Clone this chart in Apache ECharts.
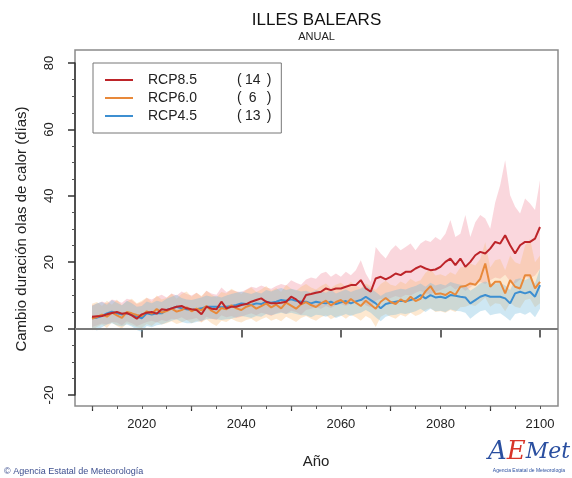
<!DOCTYPE html>
<html>
<head>
<meta charset="utf-8">
<script src="https://cdn.jsdelivr.net/npm/echarts@6/dist/echarts.min.js"></script>
<style>
  html, body { margin: 0; padding: 0; background: #fff; }
  #chart { width: 572px; height: 478px; }
</style>
</head>
<body>
<div id="chart"></div>
<script>
// Heat-wave duration change, Illes Balears, annual, 2010-2100
const startYear = 2010;
const scenarioNames = ['RCP8.5', 'RCP6.0', 'RCP4.5'];
const modelCounts = [14, 6, 13];
const xTickLabels = [2020, 2040, 2060, 2080, 2100];
const yTickLabels = [-20, 0, 20, 40, 60, 80];

// ensemble mean, lower and upper bounds (days)
const rcp85Mean = [
  3.6,3.7,3.8,4.3,4.7,5.0,4.5,4.7,4.0,3.0,
  4.3,4.8,5.0,4.5,5.8,5.6,6.1,6.6,6.8,6.1,
  5.8,5.6,4.3,6.6,6.0,5.8,8.1,6.1,6.6,6.6,
  7.1,7.4,8.1,8.6,9.1,8.1,7.6,7.6,7.8,8.1,
  9.6,8.8,7.4,10.1,10.4,10.8,11.1,12.1,11.6,12.1,
  12.1,12.6,13.1,13.1,14.6,12.1,11.1,15.1,15.6,14.8,
  15.6,16.6,16.1,17.1,17.1,18.1,18.8,18.1,17.6,17.8,
  18.6,20.1,21.1,19.1,21.1,18.6,20.1,22.1,23.1,22.6,
  24.1,26.1,25.6,28.1,25.1,22.6,25.1,26.1,26.1,27.1,
  30.6
];
const rcp85Low = [
  0.5,1.0,1.5,1.2,2.0,1.8,1.0,2.2,1.6,0.8,
  1.4,2.0,2.4,1.8,2.6,2.2,3.0,2.8,3.4,2.6,
  2.8,3.2,2.0,3.6,3.0,2.6,4.0,3.4,3.8,3.2,
  3.6,4.2,4.6,4.0,4.8,4.4,3.8,4.6,5.0,4.4,
  5.4,5.0,4.2,5.6,6.0,6.4,6.0,6.8,6.2,7.0,
  7.4,6.8,7.6,8.0,8.6,7.0,6.4,8.4,9.0,8.6,
  9.2,9.8,9.4,10.2,10.0,10.8,11.4,10.6,10.4,11.0,
  11.6,12.2,13.0,11.8,12.6,11.4,12.4,13.6,14.0,13.4,
  14.6,15.4,15.0,16.2,14.2,13.6,14.8,15.6,15.2,16.0,
  18.0
];
const rcp85High = [
  7.0,7.5,8.2,7.6,8.8,8.4,7.8,9.0,8.6,7.4,
  8.0,9.2,8.8,9.6,10.2,9.4,10.6,10.0,11.2,10.4,
  10.0,10.8,9.6,11.4,10.6,10.2,12.4,11.0,11.6,11.2,
  11.0,11.8,12.6,12.2,13.0,12.4,12.0,12.8,13.4,13.0,
  14.6,13.8,13.2,14.8,15.4,15.0,16.6,17.1,15.6,16.6,
  15.6,17.1,16.1,17.6,20.6,16.6,14.0,24.6,22.6,21.1,
  23.6,25.1,23.6,24.6,25.6,23.6,25.6,26.6,26.1,27.6,
  26.6,28.6,32.7,27.6,28.6,34.2,27.6,32.0,34.2,33.2,
  30.1,38.0,43.2,50.7,40.2,36.7,34.7,39.2,37.7,35.7,
  44.7
];

const rcp60Mean = [
  3.0,3.5,4.2,3.6,4.8,4.0,3.2,5.0,4.6,4.1,
  3.8,5.2,4.5,5.9,4.8,5.3,6.0,5.1,5.6,6.4,
  5.2,6.0,5.5,6.8,5.4,4.6,6.2,5.8,7.0,6.1,
  5.6,6.6,7.1,6.0,6.8,7.6,6.4,7.2,6.1,7.8,
  6.9,6.0,7.3,8.0,7.1,6.5,7.6,8.4,7.0,8.0,
  8.6,7.5,8.9,7.8,6.8,8.4,7.2,6.0,8.1,9.2,
  8.0,7.4,8.8,8.0,9.6,8.3,9.0,11.2,12.8,10.4,
  10.6,10.1,11.1,10.2,12.6,12.8,13.6,13.2,15.0,19.6,
  12.6,14.1,14.1,10.6,14.6,12.6,12.1,16.1,16.1,12.1,
  14.1
];
const rcp60Low = [
  -0.5,0.5,1.2,0.2,1.8,0.8,0.0,1.6,1.0,0.4,
  0.2,1.4,0.8,2.0,1.2,1.6,2.2,1.4,1.8,2.6,
  1.6,2.4,1.8,2.8,1.6,0.8,2.4,2.0,3.0,2.2,
  1.8,2.6,3.0,2.0,2.8,3.4,2.4,3.0,2.2,3.6,
  2.8,2.0,3.2,3.8,3.0,2.4,3.4,4.0,2.8,3.6,
  4.0,3.0,4.2,3.4,2.4,3.8,3.0,0.5,3.6,4.4,
  3.6,3.0,4.2,3.6,4.8,3.8,4.4,5.6,6.2,5.0,
  5.2,4.8,5.6,5.0,6.4,6.6,7.2,6.8,8.0,9.4,
  6.6,7.6,7.4,5.2,7.8,6.6,6.2,8.6,9.0,6.4,
  7.6
];
const rcp60High = [
  7.5,8.0,6.8,8.4,7.2,8.8,7.0,8.2,9.0,7.6,
  8.4,9.4,8.0,10.0,8.8,9.2,10.6,9.0,10.4,11.2,
  9.6,10.8,9.8,11.4,10.2,9.4,11.0,10.6,12.0,11.2,
  10.4,11.6,12.4,11.0,11.8,12.8,11.4,12.2,11.0,13.2,
  12.0,11.4,12.6,13.4,12.4,11.8,12.8,13.6,12.2,13.2,
  13.8,12.6,14.0,13.0,12.2,13.6,12.8,11.6,13.4,14.4,
  13.2,12.8,14.2,13.4,15.0,14.0,14.6,16.8,18.0,16.0,
  16.4,15.8,17.0,16.2,18.4,18.8,19.6,19.0,21.0,26.0,
  18.4,20.6,21.0,17.6,22.0,20.0,19.4,25.0,27.0,20.0,
  22.0
];

const rcp45Mean = [
  3.1,3.3,3.8,4.6,5.1,4.6,4.2,4.6,4.2,3.6,
  3.1,4.6,4.2,4.6,4.6,5.6,6.1,6.6,6.1,5.8,
  5.6,5.8,6.1,6.6,6.6,6.6,6.4,6.6,6.8,7.1,
  7.6,7.4,7.1,7.6,7.4,8.1,7.8,8.1,8.6,8.4,
  8.8,8.4,8.1,8.1,7.6,8.1,7.8,7.6,8.1,7.4,
  7.9,8.3,7.6,8.2,8.6,9.6,8.6,7.6,6.1,7.4,
  7.8,8.1,8.4,8.2,8.6,9.1,10.1,9.1,10.1,9.4,
  9.6,9.2,10.1,9.9,9.6,9.4,7.6,8.6,9.6,10.1,
  9.6,9.6,9.6,9.1,7.6,10.6,11.1,10.6,11.1,9.6,
  13.1
];
const rcp45Low = [
  0.0,-0.6,0.4,1.2,1.6,1.0,0.6,1.2,0.6,-0.4,
  -1.0,0.8,0.4,1.0,1.2,1.8,2.4,2.8,2.0,1.6,
  1.6,2.0,2.4,2.8,3.0,2.8,2.6,2.8,3.0,3.4,
  3.8,3.6,3.2,3.8,3.6,4.4,4.0,4.4,4.8,4.4,
  4.8,4.4,4.0,4.0,3.4,4.2,4.0,3.6,4.2,3.2,
  3.8,4.4,3.8,4.4,4.8,5.6,4.8,3.4,2.2,3.6,
  4.0,4.2,4.6,4.4,4.8,5.2,6.0,5.0,6.0,5.2,
  5.4,5.0,5.8,5.4,5.2,4.8,3.0,4.2,5.2,5.6,
  4.0,4.4,4.6,3.6,2.4,4.4,4.8,4.2,5.0,3.4,
  6.0
];
const rcp45High = [
  6.8,7.6,8.0,7.2,8.6,7.8,7.0,8.4,7.6,6.6,
  6.8,8.2,7.6,8.4,8.0,9.0,9.6,10.2,9.2,8.8,
  8.6,9.0,9.4,10.0,9.6,9.8,9.4,10.0,10.4,10.8,
  11.2,10.8,10.4,11.0,10.6,11.6,11.2,11.8,12.2,11.6,
  12.0,11.6,11.2,11.4,10.8,11.6,11.2,10.8,11.6,10.6,
  11.2,11.8,11.0,11.6,12.0,13.0,12.0,11.0,9.8,10.8,
  11.2,11.6,12.0,11.8,12.4,12.8,13.6,12.6,13.8,13.0,
  13.4,13.0,14.0,13.6,13.2,13.0,11.4,12.4,13.6,14.2,
  13.6,13.6,13.8,13.0,11.6,14.8,15.2,14.6,15.4,13.6,
  18.0
];

const years = rcp85Mean.map((_, i) => startYear + i);
const pairs = arr => arr.map((v, i) => [years[i], v]);
const triples = (lo, hi) => lo.map((v, i) => [years[i], v, hi[i]]);

const lineColors = ['#bd2429', '#e8893a', '#3d8fd1'];
const bandColors = ['rgba(240,130,150,0.32)', 'rgba(250,185,110,0.32)', 'rgba(110,185,220,0.34)'];
const bands = [[rcp85Low, rcp85High], [rcp60Low, rcp60High], [rcp45Low, rcp45High]];
const means = [rcp85Mean, rcp60Mean, rcp45Mean];

// Plot-area geometry (pixels)
const axisLeft = 92, axisRight = 540, axisTop = 63, axisBottom = 395;
const boxLeft = 75, boxRight = 558, boxTop = 50, boxBottom = 406;
const yMin = -20, yMax = 80, xMin = 2010, xMax = 2100;
const pxPerUnitY = (axisBottom - axisTop) / (yMax - yMin);
const pxPerYear = (axisRight - axisLeft) / (xMax - xMin);

const series = [];
// zero reference line across the whole box
series.push({
  type: 'line', xAxisIndex: 0, yAxisIndex: 0, data: [], silent: true, z: 1,
  markLine: {
    silent: true, symbol: 'none', label: { show: false },
    lineStyle: { color: '#7a7a7a', width: 2, type: 'solid' },
    data: [{ yAxis: 0 }]
  }
});
// ensemble ranges as filled polygons (upper edge forward, lower edge back)
bands.forEach(([lo, hi], k) => {
  const rows = triples(lo, hi);
  series.push({
    type: 'custom', xAxisIndex: 1, yAxisIndex: 1, silent: true, z: 2,
    data: rows, encode: { x: 0, y: [1, 2] },
    renderItem: (params, api) => {
      if (params.dataIndex !== 0) return null;
      const upper = rows.map(r => api.coord([r[0], r[2]]));
      const lower = rows.map(r => api.coord([r[0], r[1]])).reverse();
      return { type: 'polygon', shape: { points: upper.concat(lower) },
               style: { fill: bandColors[k], stroke: null } };
    }
  });
});
// ensemble means, blue drawn first so red sits on top
[2, 1, 0].forEach(k => {
  series.push({
    name: scenarioNames[k], type: 'line', xAxisIndex: 1, yAxisIndex: 1,
    data: pairs(means[k]), symbol: 'none', color: lineColors[k],
    lineStyle: { color: lineColors[k], width: 2 }, z: 5
  });
});

const font = 'Liberation Sans, Arial, Helvetica, sans-serif';
const minorYears = [];
for (let y = 2010; y <= 2100; y += 5) minorYears.push(y);
const midYears = [2010, 2030, 2050, 2070, 2090];

const tickAxis = (values, len, width, color) => ({
  type: 'value', gridIndex: 1, min: xMin, max: xMax, position: 'bottom', offset: boxBottom - axisBottom,
  axisLine: { show: false }, splitLine: { show: false }, axisLabel: { show: false },
  axisTick: { show: true, customValues: values, length: len, lineStyle: { color, width } }
});

const option = {
  animation: false,
  backgroundColor: '#ffffff',
  grid: [
    { left: boxLeft, right: 572 - boxRight, top: boxTop, bottom: 478 - boxBottom,
      show: true, borderColor: '#8a8a8a', borderWidth: 1.5, backgroundColor: 'transparent' },
    { left: axisLeft, right: 572 - axisRight, top: axisTop, bottom: 478 - axisBottom, show: false }
  ],
  xAxis: [
    { type: 'value', gridIndex: 0, show: false,
      min: xMin - (axisLeft - boxLeft) / pxPerYear, max: xMax + (boxRight - axisRight) / pxPerYear },
    { type: 'value', gridIndex: 1, min: xMin, max: xMax, position: 'bottom', offset: boxBottom - axisBottom,
      name: 'Año', nameLocation: 'middle', nameGap: 48,
      nameTextStyle: { fontFamily: font, fontSize: 15, color: '#222' },
      axisLine: { show: false },
      splitLine: { show: false },
      axisTick: { show: true, customValues: xTickLabels, length: 9, lineStyle: { color: '#333', width: 1.5 } },
      axisLabel: { customValues: xTickLabels, formatter: v => String(v),
                   fontFamily: font, fontSize: 13, color: '#222', margin: 12 } },
    tickAxis(midYears, 5, 1.2, '#333'),
    tickAxis(minorYears, 3, 1, '#555')
  ],
  yAxis: [
    { type: 'value', gridIndex: 0, show: false,
      min: yMin - (boxBottom - axisBottom) / pxPerUnitY, max: yMax + (axisTop - boxTop) / pxPerUnitY },
    { type: 'value', gridIndex: 1, min: yMin, max: yMax, interval: 20, position: 'left', offset: axisLeft - boxLeft,
      name: 'Cambio duración olas de calor (días)', nameLocation: 'middle', nameGap: 46,
      nameTextStyle: { fontFamily: font, fontSize: 15, color: '#222' },
      axisLine: { show: true, lineStyle: { color: '#333', width: 1.5 } },
      splitLine: { show: false },
      axisTick: { show: true, length: 7, lineStyle: { color: '#333', width: 1.5 } },
      minorTick: { show: true, splitNumber: 4, length: 3, lineStyle: { color: '#555' } },
      axisLabel: { customValues: yTickLabels, rotate: 90, fontFamily: font, fontSize: 13, color: '#222', margin: 19 } }
  ],
  legend: {
    data: scenarioNames, orient: 'vertical', left: 93, top: 63,
    padding: [10, 10, 10, 12], itemGap: 4, itemWidth: 28, itemHeight: 2, icon: 'rect',
    borderColor: '#777', borderWidth: 1, backgroundColor: '#fff',
    formatter: name => {
      const n = modelCounts[scenarioNames.indexOf(name)];
      return '{n|' + name + '}{p|(}{v|' + n + '}{q|)}';
    },
    textStyle: {
      fontFamily: font, fontSize: 14, color: '#222', lineHeight: 14,
      rich: {
        n: { fontFamily: font, fontSize: 14, width: 89, padding: [0, 0, 0, 10] },
        p: { fontFamily: font, fontSize: 14 },
        v: { fontFamily: font, fontSize: 14, width: 22, align: 'right' },
        q: { fontFamily: font, fontSize: 14, padding: [0, 0, 0, 3] }
      }
    }
  },
  graphic: [
    { type: 'text', x: (boxLeft + boxRight) / 2, y: 20, style: { text: 'ILLES BALEARS', font: '17px ' + font, fill: '#111', textAlign: 'center', textVerticalAlign: 'middle' } },
    { type: 'text', x: (boxLeft + boxRight) / 2, y: 37, style: { text: 'ANUAL', font: '11px ' + font, fill: '#222', textAlign: 'center', textVerticalAlign: 'middle' } },
    { type: 'text', x: 4, y: 472, style: { text: '© Agencia Estatal de Meteorología', font: '9px ' + font, fill: '#3d4f8f', textVerticalAlign: 'middle' } },
    { type: 'text', x: 529, y: 452, style: {
        text: '{a|A}{e|E}{m|Met}', textAlign: 'center', textVerticalAlign: 'middle',
        rich: {
          a: { font: 'italic 26px DejaVu Serif, serif', fill: '#2a4fa0' },
          e: { font: 'italic 26px DejaVu Serif, serif', fill: '#d8352a' },
          m: { font: 'italic 22px DejaVu Serif, serif', fill: '#2a4fa0' }
        } } },
    { type: 'text', x: 529, y: 471, style: { text: 'Agencia Estatal de Meteorología', font: '5px ' + font, fill: '#2a4fa0', textAlign: 'center', textVerticalAlign: 'middle' } }
  ],
  series
};

const chart = echarts.init(document.getElementById('chart'), null, { renderer: 'canvas' });
chart.setOption(option);
</script>
</body>
</html>
